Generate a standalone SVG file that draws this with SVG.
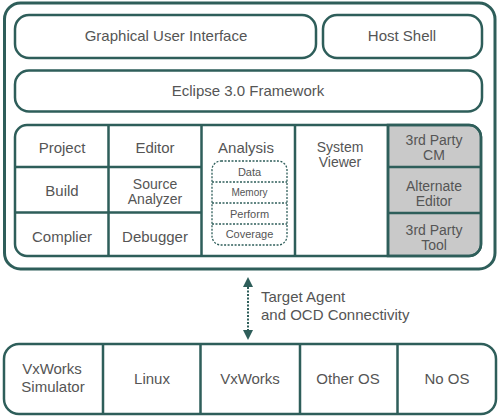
<svg xmlns="http://www.w3.org/2000/svg" width="500" height="418" viewBox="0 0 500 418">
<defs>
<style>
.b{fill:#fff;stroke:#2e5e5a;stroke-width:2.5}
.o{fill:#fff;stroke:#2e5e5a;stroke-width:3}
.g{fill:#c9c9c9;stroke:#2e5e5a;stroke-width:2.5}
.l{stroke:#2e5e5a;stroke-width:2.5;fill:none}
.d{stroke:#2e5e5a;stroke-width:1.3;fill:none;stroke-dasharray:2 1.5}
text{font-family:"Liberation Sans",Arial,sans-serif;font-size:15px;fill:#555;text-anchor:middle}
.w{font-size:14px}
.s{font-size:11px}
.m{font-size:10px}
.t{text-anchor:start}
</style>
</defs>
<g id="frame"><rect class="o" x="4.5" y="3" width="490.5" height="266" rx="16"/></g>
<g id="gui"><rect class="b" x="15" y="15" width="301" height="43" rx="14"/><text x="166" y="41">Graphical User Interface</text></g>
<g id="hostshell"><rect class="b" x="323" y="15" width="159" height="43" rx="14"/><text x="402" y="41">Host Shell</text></g>
<g id="eclipse"><rect class="b" x="15" y="70.5" width="467" height="41" rx="14"/><text x="248" y="96">Eclipse 3.0 Framework</text></g>
<g id="tools">
<path class="g" d="M388,125 H469 A12,12 0 0 1 481,137 V244 A12,12 0 0 1 469,256 H388 Z"/>
<rect class="l" x="15" y="125" width="466" height="131" rx="12"/>
<path class="l" d="M108.5,125V256M201.5,125V256M295,125V256M388,125V256M15,167H201.5M15,212.5H201.5M388,167H481M388,213H481"/>
</g>
<g id="project"><text x="62" y="153">Project</text></g>
<g id="editor"><text x="155" y="153">Editor</text></g>
<g id="analysis"><text x="246" y="153">Analysis</text>
<rect class="d" x="212" y="161" width="75" height="84" rx="9"/>
<path class="d" d="M212,182H287M212,203H287M212,224H287"/>
<text class="s" x="249.5" y="176">Data</text>
<text class="m" x="249.5" y="196">Memory</text>
<text class="s" x="249.5" y="217.5">Perform</text>
<text class="s" x="249.5" y="238">Coverage</text>
</g>
<g id="systemviewer"><text class="w" x="340" y="152">System</text><text class="w" x="340" y="167">Viewer</text></g>
<g id="thirdpartycm"><text class="w" x="434" y="145">3rd Party</text><text class="w" x="434" y="160">CM</text></g>
<g id="build"><text x="62" y="196">Build</text></g>
<g id="sourceanalyzer"><text class="w" x="155" y="189">Source</text><text class="w" x="155" y="204">Analyzer</text></g>
<g id="alternateeditor"><text class="w" x="434" y="191">Alternate</text><text class="w" x="434" y="206">Editor</text></g>
<g id="complier"><text x="62" y="242">Complier</text></g>
<g id="debugger"><text x="155" y="242">Debugger</text></g>
<g id="thirdpartytool"><text class="w" x="434" y="235">3rd Party</text><text class="w" x="434" y="250">Tool</text></g>
<g id="connectors">
<line x1="248" y1="287" x2="248" y2="330" stroke="#2e5e5a" stroke-width="2" stroke-dasharray="2 1.5"/>
<path d="M248,277 L243,287 L253,287 Z" fill="#2e5e5a"/>
<path d="M248,340 L243,330 L253,330 Z" fill="#2e5e5a"/>
<text class="t" x="261" y="302">Target Agent</text>
<text class="t" x="261" y="320">and OCD Connectivity</text>
</g>
<g id="targets">
<rect class="b" x="4" y="344" width="492" height="70" rx="15"/>
<path class="l" d="M103,344V414M200.5,344V414M300,344V414M397.5,344V414"/>
</g>
<g id="vxsim"><text x="52" y="374">VxWorks</text><text x="53" y="392">Simulator</text></g>
<g id="linux"><text x="152" y="384">Linux</text></g>
<g id="vxworks"><text x="250" y="384">VxWorks</text></g>
<g id="otheros"><text x="348" y="384">Other OS</text></g>
<g id="noos"><text x="447" y="384">No OS</text></g>
</svg>
